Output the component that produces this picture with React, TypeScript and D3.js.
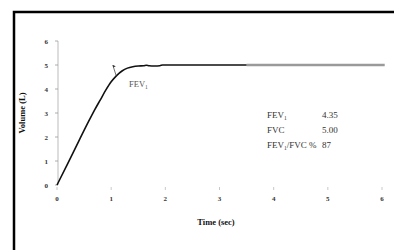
import React, { useRef, useEffect } from "react";
import * as d3 from "d3";

// spirometry curve (time in sec, volume in L)
const timeValues = [0, 0.2, 0.4, 0.6, 0.7, 0.8, 0.9, 1.0, 1.1, 1.2, 1.3, 1.4, 1.5, 1.6, 1.65, 1.7, 1.8, 1.9, 1.95, 2.0, 2.5, 3.0, 3.5];
const volumeValues = [0, 0.9, 1.82, 2.72, 3.15, 3.55, 3.95, 4.3, 4.56, 4.75, 4.87, 4.93, 4.96, 4.97, 4.99, 4.97, 4.96, 4.97, 5.0, 5.0, 5.0, 5.0, 5.0];
const plateauTimes = [3.5, 6.05];
const plateauValue = 5.0;
const xTicks = [0, 1, 2, 3, 4, 5, 6];
const yTicks = [0, 1, 2, 3, 4, 5, 6];
const statLabels = ["FEV", "FVC", "FEV/FVC %"];
const statValues = ["4.35", "5.00", "87"];

const App: React.FC = () => {
  const svgRef = useRef<SVGSVGElement | null>(null);
  const width = 394;
  const height = 250;

  useEffect(() => {
    if (!svgRef.current) return;
    const svg = d3.select(svgRef.current);
    svg.selectAll("*").remove();

    const x = d3.scaleLinear().domain([0, 6]).range([57, 382]);
    const y = d3.scaleLinear().domain([0, 6]).range([185, 41]);

    // frame
    svg.append("path")
      .attr("d", `M14,${height + 5}V12H${width + 5}`)
      .attr("fill", "none")
      .attr("stroke", "#000")
      .attr("stroke-width", 2.5);

    // y axis
    svg.append("line")
      .attr("x1", x(0) + 1).attr("x2", x(0) + 1)
      .attr("y1", y(6)).attr("y2", y(0))
      .attr("stroke", "#bbb").attr("stroke-width", 1);

    const serif = "'Liberation Serif', 'DejaVu Serif', serif";

    svg.append("g").selectAll("line").data(yTicks).enter().append("line")
      .attr("x1", x(0) - 2).attr("x2", x(0) + 1)
      .attr("y1", d => y(d)).attr("y2", d => y(d))
      .attr("stroke", "#999").attr("stroke-width", 0.8);

    svg.append("g").selectAll("text").data(yTicks).enter().append("text")
      .attr("x", 48).attr("y", d => y(d) + 2.5)
      .attr("text-anchor", "end")
      .style("font", `bold 7px ${serif}`)
      .attr("fill", "#333")
      .text(d => d);

    svg.append("g").selectAll("line").data(xTicks).enter().append("line")
      .attr("x1", d => x(d)).attr("x2", d => x(d))
      .attr("y1", 187).attr("y2", 190)
      .attr("stroke", "#bbb").attr("stroke-width", 0.8);

    svg.append("g").selectAll("text").data(xTicks).enter().append("text")
      .attr("x", d => x(d)).attr("y", 201)
      .attr("text-anchor", "middle")
      .style("font", `bold 7px ${serif}`)
      .attr("fill", "#333")
      .text(d => d);

    // axis titles
    svg.append("text")
      .attr("transform", "translate(25,113) rotate(-90)")
      .attr("text-anchor", "middle")
      .style("font", `bold 8.5px ${serif}`)
      .attr("fill", "#111")
      .text("Volume (L)");

    svg.append("text")
      .attr("x", 216).attr("y", 225)
      .attr("text-anchor", "middle")
      .style("font", `bold 8.5px ${serif}`)
      .attr("fill", "#111")
      .text("Time (sec)");

    // plateau (grey)
    svg.append("line")
      .attr("x1", x(plateauTimes[0])).attr("x2", x(plateauTimes[1]))
      .attr("y1", y(plateauValue)).attr("y2", y(plateauValue))
      .attr("stroke", "#9a9a9a").attr("stroke-width", 2.5);

    // curve
    const pts = timeValues.map((t, i) => [t, volumeValues[i]] as [number, number]);
    const line = d3.line<[number, number]>()
      .x(d => x(d[0])).y(d => y(d[1]))
      .curve(d3.curveMonotoneX);
    svg.append("path")
      .attr("d", line(pts))
      .attr("fill", "none")
      .attr("stroke", "#111")
      .attr("stroke-width", 1.6);

    // FEV1 arrow
    const ax0 = x(1.1), ay0 = y(4.5);
    const ax1 = x(1.03), ay1 = y(5.0);
    svg.append("line")
      .attr("x1", ax0).attr("y1", ay0).attr("x2", ax1).attr("y2", ay1)
      .attr("stroke", "#333").attr("stroke-width", 0.7);
    svg.append("path")
      .attr("d", `M${ax1},${ay1}l3,1.2l-2.6,1.4z`)
      .attr("fill", "#333");

    const fev = svg.append("text")
      .attr("x", 129).attr("y", 87)
      .style("font", `8.5px ${serif}`)
      .attr("fill", "#555");
    fev.append("tspan").text("FEV");
    fev.append("tspan").attr("dy", 2).style("font-size", "5.5px").text("1");

    // stats block
    const g = svg.append("g").style("font", `9px ${serif}`).attr("fill", "#333");
    statLabels.forEach((lab, i) => {
      const yy = 118 + i * 15;
      const t = g.append("text").attr("x", 267).attr("y", yy);
      if (i === 0) {
        t.append("tspan").text("FEV");
        t.append("tspan").attr("dy", 2).style("font-size", "5.5px").text("1");
      } else if (i === 2) {
        t.append("tspan").text("FEV");
        t.append("tspan").attr("dy", 2).style("font-size", "5.5px").text("1");
        t.append("tspan").attr("dy", -2).text("/FVC %");
      } else {
        t.text(lab);
      }
      g.append("text").attr("x", 322).attr("y", yy).text(statValues[i]);
    });
  }, []);

  return <svg ref={svgRef} width={width} height={height} style={{ position: "absolute", left: 0, top: 0, background: "#fff" }}></svg>;
};

export default App;
